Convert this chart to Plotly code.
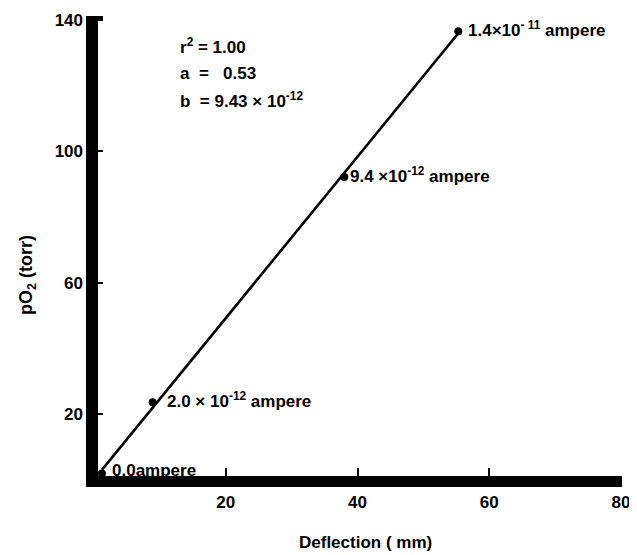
import numpy as np
import plotly.graph_objects as go

# Data
deflection_mm = [1.2, 8.9, 38.0, 55.3]
po2_torr = [2.0, 23.7, 92.2, 136.6]
point_labels = ["0.0ampere", "2.0 × 10<sup>-12</sup> ampere",
                "9.4 ×10<sup>-12</sup> ampere", "1.4×10<sup>- 11</sup> ampere"]
x_ticks = [20, 40, 60, 80]
y_ticks = [20, 60, 100, 140]
stats_lines = ["r<sup>2</sup> = 1.00", "a  =   0.53", "b  = 9.43 × 10<sup>-12</sup>"]

FONT = "Liberation Sans, Arial, sans-serif"
OFF = 8  # page body margin
W, H = 637 - OFF, 555 - OFF
L, R, T, B = 94 - OFF, 16, 20 - OFF, 75
PW, PH = W - L - R, H - T - B

def px(xs):
    """screen x pixel -> paper"""
    return (xs - OFF - L) / PW

def py(ys):
    """screen y pixel -> paper"""
    return (H - B - (ys - OFF)) / PH

# least-squares line
slope, intercept = np.polyfit(deflection_mm, po2_torr, 1)
xl = np.array([min(deflection_mm), max(deflection_mm)])
yl = slope * xl + intercept

fig = go.Figure()
fig.add_trace(go.Scatter(x=xl, y=yl, mode="lines",
                         line=dict(color="black", width=2.6),
                         hoverinfo="skip", showlegend=False, cliponaxis=False))
fig.add_trace(go.Scatter(x=deflection_mm, y=po2_torr, mode="markers",
                         marker=dict(color="black", size=8),
                         showlegend=False, cliponaxis=False))

shifts = [(8, 3), (12, 2), (4, 2), (8, 2)]
for xv, yv, lab, (dx, dy) in zip(deflection_mm, po2_torr, point_labels, shifts):
    fig.add_annotation(x=xv, y=yv, xref="x", yref="y", text="<b>" + lab + "</b>",
                       showarrow=False, xanchor="left", yanchor="middle",
                       xshift=dx, yshift=dy,
                       font=dict(family=FONT, size=17, color="black"))

for txt, ypix in zip(stats_lines, [46, 73, 100]):
    fig.add_annotation(x=px(178), y=py(ypix), xref="paper", yref="paper",
                       text="<b>" + txt + "</b>", showarrow=False,
                       xanchor="left", yanchor="middle",
                       font=dict(family=FONT, size=17, color="black"))

# axis titles
fig.add_annotation(x=px(27), y=py(275), xref="paper", yref="paper",
                   text="<b>pO<sub>2</sub> (torr)</b>", textangle=-90, showarrow=False,
                   xanchor="center", yanchor="middle",
                   font=dict(family=FONT, size=18, color="black"))
fig.add_annotation(x=px(365), y=py(553), xref="paper", yref="paper",
                   text="<b>Deflection ( mm)</b>", showarrow=False,
                   xanchor="center", yanchor="bottom", borderpad=0,
                   font=dict(family=FONT, size=17, color="black"))

# thick axis bars
bar = dict(fillcolor="black", line=dict(width=0), layer="below",
           xref="paper", yref="paper", type="rect")
fig.add_shape(x0=px(86), x1=px(98), y0=py(487), y1=py(19), **bar)
fig.add_shape(x0=px(86), x1=px(622), y0=py(487), y1=py(476), **bar)
fig.add_shape(x0=px(86), x1=px(103), y0=py(21), y1=py(16), **bar)

fig.update_xaxes(range=[0, 80], tickvals=x_ticks, ticktext=[f"<b>{v}</b>" for v in x_ticks],
                 ticks="inside", ticklen=12, tickwidth=2, tickcolor="black",
                 showgrid=False, zeroline=False, showline=False, automargin=False,
                 tickfont=dict(family=FONT, size=17, color="black"),
                 ticklabelstandoff=10)
fig.update_yaxes(range=[0, 140], tickvals=y_ticks, ticktext=[f"<b>{v}</b>" for v in y_ticks],
                 ticks="inside", ticklen=9, tickwidth=2, tickcolor="black",
                 showgrid=False, zeroline=False, showline=False, automargin=False,
                 tickfont=dict(family=FONT, size=17, color="black"),
                 ticklabelstandoff=10)

fig.update_layout(width=W, height=H, margin=dict(l=L, r=R, t=T, b=B, autoexpand=False),
                  plot_bgcolor="white", paper_bgcolor="white", showlegend=False)

fig.write_html("out.html")
